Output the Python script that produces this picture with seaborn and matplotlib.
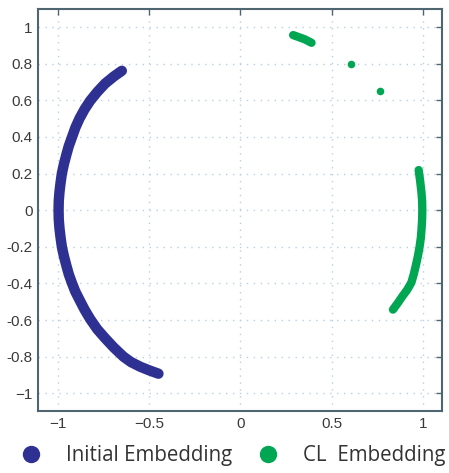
import matplotlib
matplotlib.use("Agg")
import matplotlib.pyplot as plt
from matplotlib.lines import Line2D
import pandas as pd
import seaborn as sns

# values
initial_x = [-0.651, -0.695, -0.742, -0.786, -0.825, -0.856, -0.883, -0.906, -0.925, -0.942,
             -0.956, -0.969, -0.980, -0.987, -0.993, -0.997, -0.998,
             -0.997, -0.993, -0.987, -0.980, -0.969, -0.956, -0.942, -0.925, -0.906,
             -0.883, -0.856, -0.825, -0.786, -0.742, -0.695, -0.642, -0.600, -0.550,
             -0.500, -0.450]
initial_y = [0.761, 0.730, 0.692, 0.645, 0.597, 0.550, 0.501, 0.450, 0.397, 0.350,
             0.300, 0.250, 0.200, 0.150, 0.100, 0.050, 0.000,
             -0.050, -0.100, -0.150, -0.200, -0.250, -0.300, -0.350, -0.397, -0.445,
             -0.490, -0.542, -0.594, -0.650, -0.700, -0.750, -0.800, -0.830, -0.855,
             -0.875, -0.893]

cl_arc_x = [0.978, 0.986, 0.993, 0.997, 0.998, 0.997, 0.994, 0.990, 0.983, 0.974,
            0.963, 0.951, 0.938, 0.915, 0.889, 0.865, 0.837]
cl_arc_y = [0.219, 0.160, 0.100, 0.050, 0.000, -0.050, -0.100, -0.150, -0.200, -0.250,
            -0.300, -0.350, -0.395, -0.435, -0.470, -0.505, -0.543]

cl_top_x = [0.289, 0.320, 0.355, 0.390]
cl_top_y = [0.956, 0.945, 0.932, 0.914]

cl_dots_x = [0.609, 0.764]
cl_dots_y = [0.796, 0.652]

x_ticks = [-1, -0.5, 0, 0.5, 1]
x_tick_labels = ["\u22121", "\u22120.5", "0", "0.5", "1"]
y_ticks = [-1, -0.8, -0.6, -0.4, -0.2, 0, 0.2, 0.4, 0.6, 0.8, 1]
y_tick_labels = ["\u22121", "-0.8", "-0.6", "-0.4", "-0.2", "0", "0.2", "0.4", "0.6", "0.8", "1"]

blue = "#2e3192"
green = "#00a651"
frame = "#4f6670"

sns.set_style("white")
plt.rcParams["font.family"] = ["Liberation Sans", "DejaVu Sans"]

fig = plt.figure(figsize=(4.49, 4.73), dpi=100)
ax = fig.add_axes([0.085, 0.131, 0.899, 0.849])

initial_df = pd.DataFrame({"x": initial_x, "y": initial_y})
arc_df = pd.DataFrame({"x": cl_arc_x, "y": cl_arc_y})
top_df = pd.DataFrame({"x": cl_top_x, "y": cl_top_y})
dots_df = pd.DataFrame({"x": cl_dots_x, "y": cl_dots_y})

line_style = dict(sort=False, estimator=None, ax=ax, solid_capstyle="round",
                  solid_joinstyle="round")
sns.lineplot(data=initial_df, x="x", y="y", color=blue, linewidth=7.5, **line_style)
sns.lineplot(data=arc_df, x="x", y="y", color=green, linewidth=6, **line_style)
sns.lineplot(data=top_df, x="x", y="y", color=green, linewidth=6, **line_style)
sns.scatterplot(data=dots_df, x="x", y="y", ax=ax, color=green, s=30, linewidth=0)

ax.set_xlim(-1.11, 1.105)
ax.set_ylim(-1.097, 1.096)
ax.set_xticks(x_ticks)
ax.set_xticklabels(x_tick_labels)
ax.set_yticks(y_ticks)
ax.set_yticklabels(y_tick_labels)
ax.set_xlabel("")
ax.set_ylabel("")
ax.grid(True, color="#b9cfe3", linestyle=(0, (1, 4)), linewidth=1)
ax.tick_params(direction="in", length=4, width=1, color=frame, top=True, right=True,
               labelsize=11, labelcolor="#3a3a3a", pad=4)
for side in ax.spines.values():
    side.set_color(frame)
    side.set_linewidth(1.5)

handles = [
    Line2D([], [], marker="o", linestyle="", color=blue, markersize=11.5),
    Line2D([], [], marker="o", linestyle="", color=green, markersize=11.5),
]
fig.legend(handles, ["Initial Embedding", "CL  Embedding"], loc="center left",
           bbox_to_anchor=(10 / 449, 0.036), ncol=2, frameon=False,
           prop={"family": "Open Sans", "size": 14.8}, labelcolor="#333333",
           handlelength=2, handletextpad=0.72, columnspacing=0.75,
           borderpad=0, borderaxespad=0)

fig.savefig("out.png", dpi=100, facecolor="white")
